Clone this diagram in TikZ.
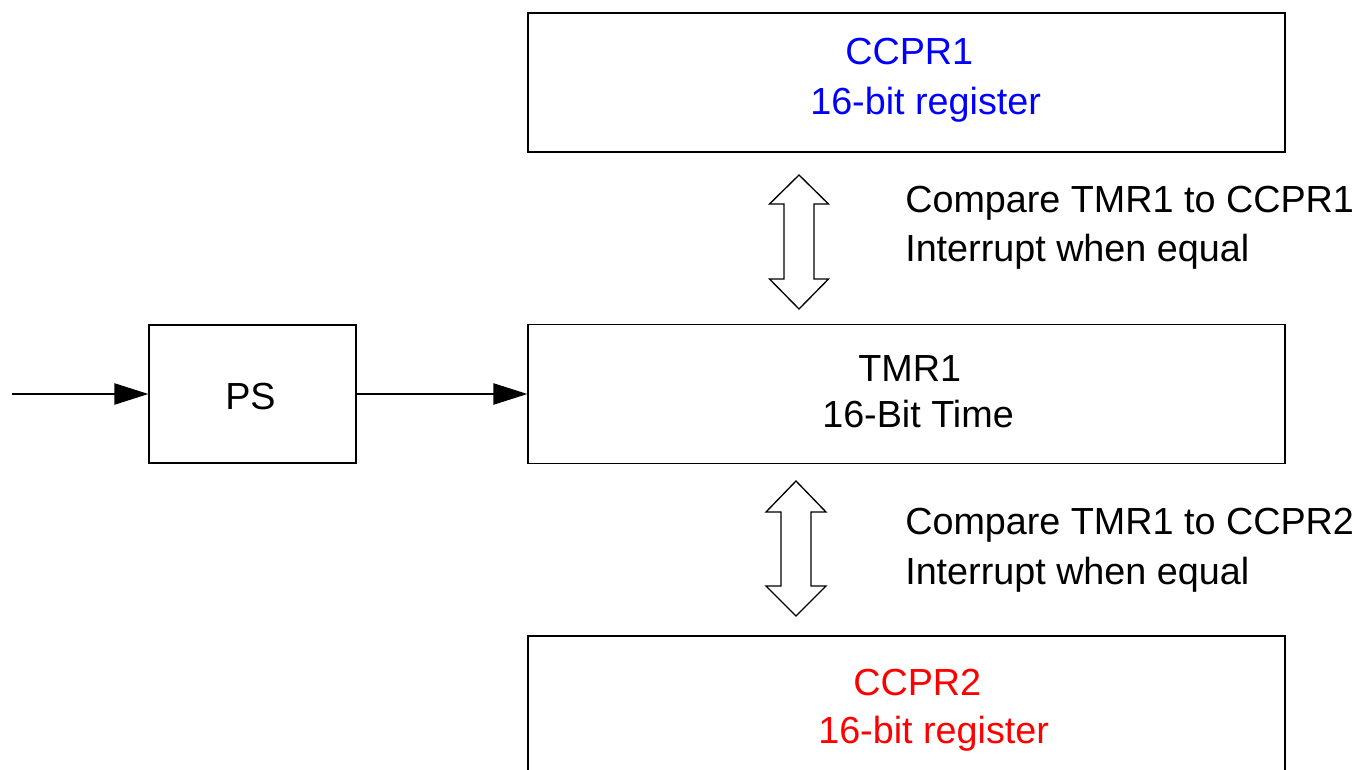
\documentclass[tikz,border=0pt]{standalone}
\usepackage{xcolor}
\usepackage{fontspec}
\setmainfont{Liberation Sans}
\usepackage{tikz}
\usetikzlibrary{arrows.meta}

\tikzset{
  regbox/.style={draw, line width=1pt, minimum width=567.75pt, minimum height=104.25pt, inner sep=0pt},
  psbox/.style={draw, line width=1pt, minimum width=155.25pt, minimum height=103.5pt, inner sep=0pt},
  lbl/.style={anchor=base west, inner sep=0pt, font=\fontsize{28.3}{34}\selectfont},
  feed/.style={line width=1pt, -{Triangle[length=25.5pt,width=16pt]}},
  fatarrow/.style={draw, line width=1pt, fill=white, line join=miter}
}

\begin{document}
\begin{tikzpicture}[x=0.75pt,y=0.75pt,yscale=-1,xscale=1]
        \useasboundingbox (0,0) rectangle (1363,770);
        % boxes
        \node [regbox] (ccpra) at (906.5,82.5) {};
        \node [regbox] (tmr) at (906.5,394) {};
        \node [regbox] (ccprb) at (906.5,705.5) {};
        \node [psbox] (ps) at (252.5,394) {};
        \coordinate (in) at (12,394);

        % clock path
        \draw [feed] (in) -- (ps.west);
        \draw [feed] (ps.east) -- (tmr.west);

        % compare arrows
        \draw [fatarrow] (799,175) -- (828.5,204) -- (814,204) -- (814,279) -- (828.5,279) -- (799,309) -- (769.5,279) -- (784,279) -- (784,204) -- (769.5,204) -- cycle;
        \draw [fatarrow] (796,481) -- (826,512) -- (811,512) -- (811,586) -- (826,586) -- (796,616) -- (766,586) -- (781,586) -- (781,512) -- (766,512) -- cycle;

        % labels
        \node [lbl, text=blue] (ccpraname) at (845,65) {CCPR1};
        \node [lbl, text=blue] (ccprasize) at (810,115) {16-bit register};
        \node [lbl] (tmrname) at (858,381) {TMR1};
        \node [lbl] (tmrsize) at (822,427) {16-Bit Time};
        \node [lbl, text=red] (ccprbname) at (853,695) {CCPR2};
        \node [lbl, text=red] (ccprbsize) at (818,743) {16-bit register};
        \node [lbl] (psname) at (225,409) {PS};
        \node [lbl] (cmpa) at (905,213) {Compare TMR1 to CCPR1};
        \node [lbl] (inta) at (905,261) {Interrupt when equal};
        \node [lbl] (cmpb) at (905,534) {Compare TMR1 to CCPR2};
        \node [lbl] (intb) at (905,584) {Interrupt when equal};
\end{tikzpicture}
\end{document}
